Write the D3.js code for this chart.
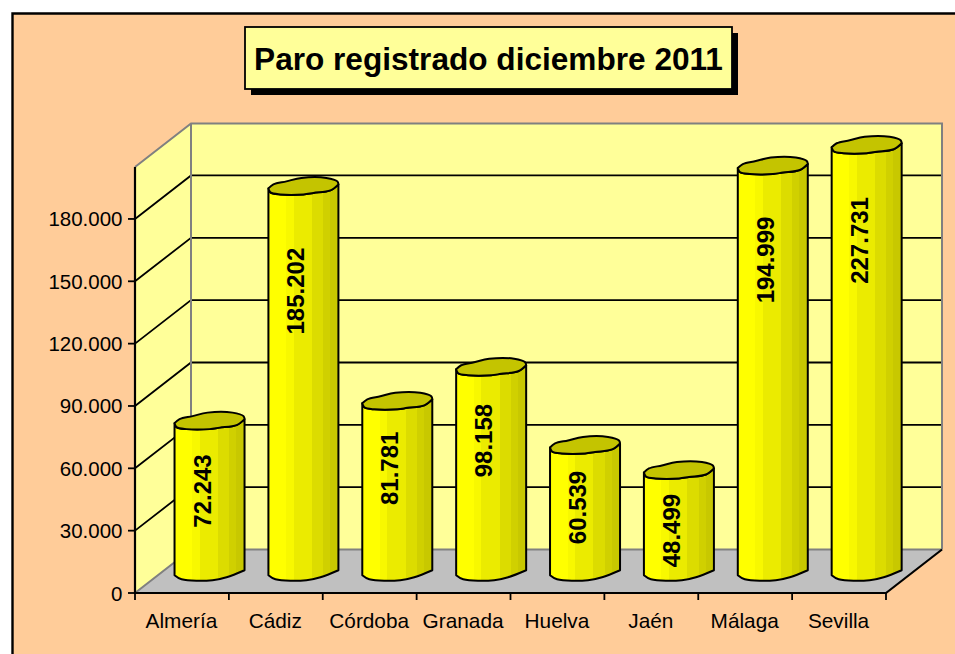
<!DOCTYPE html>
<html><head><meta charset="utf-8">
<script src="https://cdn.jsdelivr.net/npm/d3@7/dist/d3.min.js"></script>
<style>html,body{margin:0;background:#fff}svg{display:block}text{font-family:"Liberation Sans",Arial,sans-serif;fill:#000}</style>
</head><body><div id="chart"></div>
<script>
const categories = ["Almería","Cádiz","Córdoba","Granada","Huelva","Jaén","Málaga","Sevilla"];
const values = [72243,185202,81781,98158,60539,48499,194999,227731];
const valueLabels = ["72.243","185.202","81.781","98.158","60.539","48.499","194.999","227.731"];
const tickValues = [0,30000,60000,90000,120000,150000,180000];
const tickLabels = ["0","30.000","60.000","90.000","120.000","150.000","180.000"];
const axisMax = 205000;
const title = "Paro registrado diciembre 2011";

const W=955,H=654;
const plot={left:135,right:886,top:167,bottom:593}, depth={x:56,y:-43.5};
const svg=d3.select("#chart").append("svg").attr("width",W).attr("height",H);
const x=d3.scaleBand().domain(categories).range([plot.left,plot.right]);
const y=d3.scaleLinear().domain([0,axisMax]).range([plot.bottom,plot.top]).clamp(true);
const pts=a=>a.map(p=>p.join(",")).join(" ");

// chart area
svg.append("rect").attr("x",12).attr("y",13).attr("width",W).attr("height",H).attr("fill","#ffcc99");
svg.append("path").attr("d",`M12.5,${H}V13.5H${W}`).attr("fill","none").attr("stroke","#000").attr("stroke-width",2.4);

const bx=plot.left+depth.x, bxr=plot.right+depth.x, by=plot.bottom+depth.y, byt=plot.top+depth.y;
svg.append("polygon").attr("points",pts([[bx,byt],[bxr,byt],[bxr,by],[bx,by]])).attr("fill","#ffff99");
svg.append("polygon").attr("points",pts([[plot.left,plot.top],[bx,byt],[bx,by],[plot.left,plot.bottom]])).attr("fill","#ffff99");
svg.append("polygon").attr("points",pts([[plot.left,plot.bottom],[bx,by],[bxr,by],[plot.right,plot.bottom]])).attr("fill","#c0c0c0");

// gridlines
tickValues.slice(1).forEach(t=>{
  svg.append("polyline").attr("points",pts([[plot.left,y(t)],[bx,y(t)+depth.y],[bxr,y(t)+depth.y]]))
    .attr("fill","none").attr("stroke","#000").attr("stroke-width",1.8);
});
// wall edges
svg.append("polyline").attr("points",pts([[plot.left,plot.top],[bx,byt],[bxr,byt],[bxr,by]])).attr("fill","none").attr("stroke","#808080").attr("stroke-width",2);
svg.append("line").attr("x1",bx).attr("x2",bx).attr("y1",byt).attr("y2",by).attr("stroke","#808080").attr("stroke-width",2);
svg.append("polyline").attr("points",pts([[plot.left,plot.bottom],[bx,by],[bxr,by]])).attr("fill","none").attr("stroke","#808080").attr("stroke-width",2);

// axes
svg.append("polyline").attr("points",pts([[plot.left,plot.top],[plot.left,plot.bottom],[plot.right,plot.bottom],[bxr,by]])).attr("fill","none").attr("stroke","#000").attr("stroke-width",2.2);
tickValues.forEach((t,i)=>{
  svg.append("line").attr("x1",plot.left-7).attr("x2",plot.left).attr("y1",y(t)).attr("y2",y(t)).attr("stroke","#000").attr("stroke-width",1.8);
  svg.append("text").attr("x",122.5).attr("y",y(t)+7.5).attr("text-anchor","end").attr("font-size",20.5).text(tickLabels[i]);
});
[...categories.map(c=>x(c)),plot.right].forEach(px=>{
  svg.append("line").attr("x1",px).attr("x2",px).attr("y1",plot.bottom).attr("y2",plot.bottom+7).attr("stroke","#000").attr("stroke-width",1.8);
});
categories.forEach(c=>{
  svg.append("text").attr("x",x(c)+x.bandwidth()/2-0.5).attr("y",627.5).attr("text-anchor","middle").attr("font-size",20.8).text(c);
});

// gradient
const bands=[[0,"#ffff00"],[.25,"#f8f800"],[.36,"#ebeb00"],[.62,"#dcdc00"],[.78,"#d0d000"],[.88,"#c8c800"]];
const grad=svg.append("defs").append("linearGradient").attr("id","cyl");
bands.forEach((b,i)=>{
  const end=i<bands.length-1?bands[i+1][0]:1;
  grad.append("stop").attr("offset",b[0]).attr("stop-color",b[1]);
  grad.append("stop").attr("offset",end).attr("stop-color",b[1]);
});

// cylinders
const barW=70;
const smooth=d3.line().curve(d3.curveCatmullRom.alpha(.5));
const tail=s=>s.replace(/^M[^C]*/,"");
const topBack=[[0,2],[5,-2],[18,-5],[33,-8.5],[58,-8.5],[69,-5],[70,-2]];
const topFront=[[70,-2],[62,4],[45,6.5],[35,8],[12,8],[2,6],[0,2]];
const baseCurve=[[0,4],[7,8],[38,9],[52,6],[70,-1]];
const labelNudge=[2,0,-4,-3,-2,0,-14,-16];
categories.forEach((c,i)=>{
  const x0=x(c)+x.bandwidth()/2+depth.x/2-barW/2-0.4;
  const yt=y(values[i])+depth.y/2, yb=y(0)+depth.y/2;
  const at=(p,b)=>[x0+p[0],b+p[1]];
  const bot=baseCurve.map(p=>at(p,yb));
  const front=topFront.map(p=>at(p,yt));
  const bodyPath=`M${at([0,2],yt)}L${bot[0]}`+tail(smooth(bot))+`L${front[0]}`+tail(smooth(front))+"Z";
  svg.append("path").attr("d",bodyPath).attr("fill","url(#cyl)").attr("stroke","#000").attr("stroke-width",2).attr("stroke-linejoin","round");
  const capPath=smooth(topBack.map(p=>at(p,yt)))+tail(smooth(front))+"Z";
  svg.append("path").attr("d",capPath).attr("fill","#c4c400").attr("stroke","#000").attr("stroke-width",2).attr("stroke-linejoin","round");
  const cy=134+0.843*yt+labelNudge[i];
  svg.append("text").attr("transform",`translate(${x0+barW/2-7.5},${cy}) rotate(-90)`)
    .attr("text-anchor","middle").attr("dominant-baseline","central")
    .attr("font-size",24).attr("font-weight","bold").text(valueLabels[i]);
});

// title
const tb={x:245,y:27,w:487,h:62};
svg.append("rect").attr("x",tb.x+6).attr("y",tb.y+6).attr("width",tb.w).attr("height",tb.h).attr("fill","#000");
svg.append("rect").attr("x",tb.x).attr("y",tb.y).attr("width",tb.w).attr("height",tb.h).attr("fill","#ffff99").attr("stroke","#000").attr("stroke-width",1.8);
svg.append("text").attr("x",tb.x+tb.w/2).attr("y",69.5).attr("text-anchor","middle").attr("font-size",31.6).attr("font-weight","bold").text(title);
</script></body></html>
